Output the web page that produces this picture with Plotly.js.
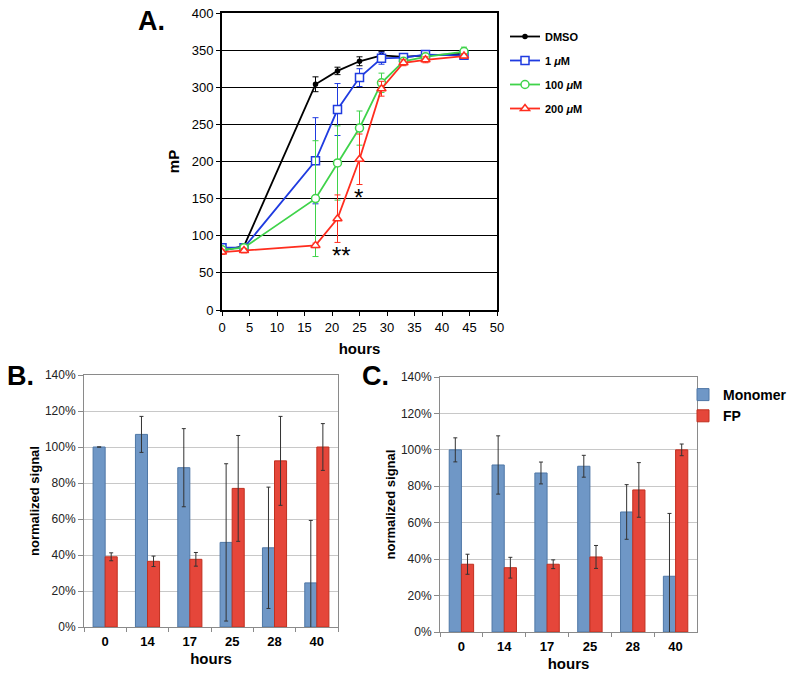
<!DOCTYPE html>
<html>
<head>
<meta charset="utf-8">
<script src="https://cdn.plot.ly/plotly-3.0.1.min.js"></script>
<style>html,body{margin:0;padding:0;background:#fff;}#chart{width:800px;height:679px;}</style>
</head>
<body>
<div id="chart"></div>
<script>
// ---- Panel A data ----
const hoursA = [0, 4, 17, 21, 25, 29, 33, 37, 44];
const dmso = [80, 86, 304, 322, 335, 343, 341, 343, 345];
const dmsoErr = [2, 3, 10, 5, 6, 5, 2, 2, 2];
const um1 = [84, 84, 201, 270, 313, 339, 340, 344, 343];
const um1Err = [3, 3, 58, 35, 12, 8, 3, 3, 3];
const um100 = [81, 84, 150, 198, 245, 306, 335, 341, 348];
const um100Err = [3, 3, 78, 50, 23, 13, 4, 3, 6];
const um200 = [78, 80, 87, 123, 203, 298, 333, 337, 342];
const um200Err = [3, 3, 3, 32, 34, 10, 4, 4, 3];
const seriesNamesA = ["DMSO", "1 <i>μ</i>M", "100 <i>μ</i>M", "200 <i>μ</i>M"];

// ---- Panel B & C data ----
const catHours = ["0", "14", "17", "25", "28", "40"];
const monoB = [100, 107, 88.5, 47, 44, 24.5];
const monoBErr = [0, 10, 21.7, 43.7, 33.7, 34.7];
const fpB = [39, 36.5, 37.6, 77, 92.3, 100];
const fpBErr = [2.2, 2.9, 3.8, 29.4, 24.7, 13];
const monoC = [100, 91.7, 87.3, 91, 65.9, 30.6];
const monoCErr = [6.6, 16, 6, 6, 15, 34.5];
const fpC = [37.2, 35.3, 37.2, 41.2, 78, 100];
const fpCErr = [5.5, 5.7, 2.4, 6.3, 15, 3.2];
const barNames = ["Monomer", "FP"];

const FONT = "Liberation Sans, Arial, sans-serif";
const cols = ["#000000", "#1f3be0", "#3fd34a", "#ff2d1e"];
const syms = ["circle", "square", "circle", "triangle-up"];
const msz = [4, 8, 8, 8];
const ysA = [dmso, um1, um100, um200];
const errsA = [dmsoErr, um1Err, um100Err, um200Err];

const traces = [];
for (let i = 0; i < 4; i++) {
  traces.push({
    type: "scatter", mode: "lines+markers", x: hoursA, y: ysA[i], name: seriesNamesA[i],
    xaxis: "x", yaxis: "y", legend: "legend", legendgroup: "g" + i,
    line: {color: cols[i], width: 1.8},
    marker: {symbol: syms[i], size: msz[i], color: i === 0 ? cols[i] : "#ffffff", line: {color: cols[i], width: 1.5}},
    error_y: {type: "data", array: errsA[i], visible: true, color: cols[i], thickness: 1, width: 3}
  });
}
const blue = "#6f97c6", red = "#e5463a";
function bars(x, y, e, name, color, xa, ya, show) {
  return {
    type: "bar", x: x, y: y, name: name, xaxis: xa, yaxis: ya, legend: "legend2", showlegend: show,
    marker: {color: color, line: {color: color === blue ? "#4f77a6" : "#c0301f", width: 1}},
    error_y: {type: "data", array: e, visible: true, color: "#333333", thickness: 1, width: 2}
  };
}
traces.push(bars(catHours, monoB, monoBErr, barNames[0], blue, "x2", "y2", false));
traces.push(bars(catHours, fpB, fpBErr, barNames[1], red, "x2", "y2", false));
traces.push(bars(catHours, monoC, monoCErr, barNames[0], blue, "x3", "y3", true));
traces.push(bars(catHours, fpC, fpCErr, barNames[1], red, "x3", "y3", true));

const barX = (dom, anchor) => ({
  domain: dom, anchor: anchor, type: "category", showline: true, mirror: true, linecolor: "#8a8a8a", linewidth: 1,
  ticks: "outside", ticklen: 4, tickcolor: "#8a8a8a", tickson: "boundaries", showgrid: false, ticklabelstandoff: 2,
  tickfont: {family: FONT, size: 13, color: "#000", weight: "bold"},
  title: {text: "hours", font: {family: FONT, size: 15, color: "#000", weight: "bold"}, standoff: 5}
});
const barY = (dom, anchor) => ({
  domain: dom, anchor: anchor, range: [0, 140], dtick: 20, ticksuffix: "%", showline: true, mirror: true,
  linecolor: "#8a8a8a", linewidth: 1, ticks: "outside", ticklen: 5, tickcolor: "#8a8a8a",
  gridcolor: "#c8c8c8", gridwidth: 1, zeroline: false,
  tickfont: {family: FONT, size: 12, color: "#222"},
  title: {text: "normalized signal", font: {family: FONT, size: 13, color: "#000", weight: "bold"}, standoff: 2}
});

const layout = {
  width: 800, height: 679, margin: {l: 0, r: 0, t: 0, b: 0, autoexpand: false}, paper_bgcolor: "#fff", plot_bgcolor: "#fff",
  font: {family: FONT, color: "#000"},
  barmode: "group", bargap: 0.43, bargroupgap: 0,
  xaxis: {
    domain: [222/800, 497/800], anchor: "y", range: [0, 50], dtick: 5, showline: true, mirror: true,
    linecolor: "#000", linewidth: 2, ticks: "outside", ticklen: 4, tickcolor: "#000", showgrid: false, zeroline: false,
    tickfont: {family: FONT, size: 13, color: "#000"},
    title: {text: "hours", font: {family: FONT, size: 15, color: "#000", weight: "bold"}, standoff: 10}
  },
  yaxis: {
    domain: [1 - 310/679, 1 - 13/679], anchor: "x", range: [0, 400], dtick: 50, showline: true, mirror: true,
    linecolor: "#000", linewidth: 2, ticks: "outside", ticklen: 4, tickcolor: "#000",
    gridcolor: "#000", gridwidth: 1, zeroline: false,
    tickfont: {family: FONT, size: 13, color: "#000"},
    title: {text: "mP", font: {family: FONT, size: 15, color: "#000", weight: "bold"}, standoff: 8}
  },
  xaxis2: barX([84/800, 338/800], "y2"),
  yaxis2: barY([1 - 627/679, 1 - 375/679], "x2"),
  xaxis3: barX([440/800, 697/800], "y3"),
  yaxis3: barY([1 - 632/679, 1 - 377/679], "x3"),
  legend: {
    x: 505/800, y: 1 - 22/679, xanchor: "left", yanchor: "top", bgcolor: "rgba(0,0,0,0)", traceorder: "grouped",
    font: {family: FONT, size: 11, color: "#000", weight: "bold"}, tracegroupgap: 5, itemwidth: 30
  },
  legend2: {
    x: 683/800, y: 1 - 379/679, xanchor: "left", yanchor: "top", bgcolor: "rgba(0,0,0,0)",
    font: {family: FONT, size: 14, color: "#000", weight: "bold"}, itemwidth: 30
  },
  annotations: [
    {xref: "paper", yref: "paper", x: 151/800, y: 1 - 21/679, text: "A.", showarrow: false, xanchor: "center", yanchor: "middle",
     font: {family: FONT, size: 27, color: "#000", weight: "bold"}},
    {xref: "paper", yref: "paper", x: 20/800, y: 1 - 376/679, text: "B.", showarrow: false, xanchor: "center", yanchor: "middle",
     font: {family: FONT, size: 27, color: "#000", weight: "bold"}},
    {xref: "paper", yref: "paper", x: 375/800, y: 1 - 376/679, text: "C.", showarrow: false, xanchor: "center", yanchor: "middle",
     font: {family: FONT, size: 27, color: "#000", weight: "bold"}},
    {xref: "x", yref: "y", x: 21.7, y: 73, text: "**", showarrow: false, font: {family: FONT, size: 24, color: "#000"}},
    {xref: "x", yref: "y", x: 24.8, y: 152, text: "*", showarrow: false, font: {family: FONT, size: 24, color: "#000"}}
  ]
};
Plotly.newPlot("chart", traces, layout, {staticPlot: true});
</script>
</body>
</html>
